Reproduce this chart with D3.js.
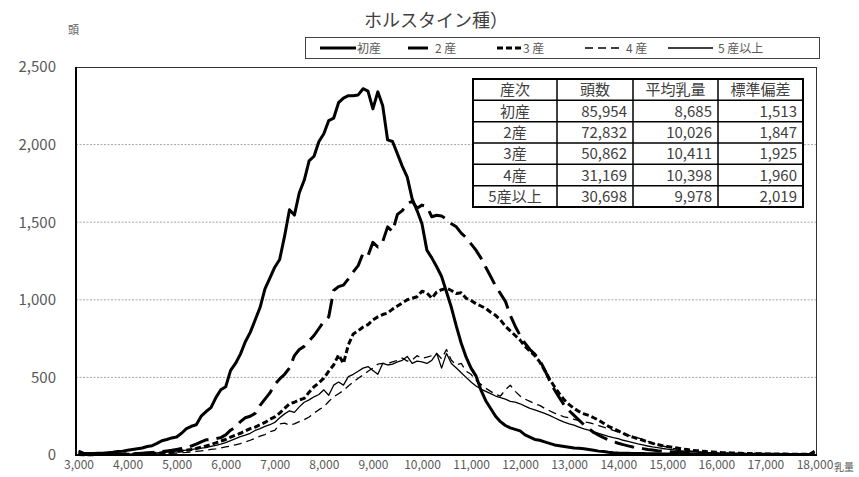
<!DOCTYPE html>
<html><head><meta charset="utf-8">
<script src="https://cdn.jsdelivr.net/npm/d3@7/dist/d3.min.js"></script>
<style>body{margin:0;background:#fff}svg{display:block}text{font-family:"Noto Sans CJK JP","Noto Sans",sans-serif}</style>
</head><body><svg id="c" width="859" height="477"></svg>
<script>
const categories = [
3000,3100,3200,3300,3400,3500,3600,3700,3800,3900,
4000,4100,4200,4300,4400,4500,4600,4700,4800,4900,
5000,5100,5200,5300,5400,5500,5600,5700,5800,5900,
6000,6100,6200,6300,6400,6500,6600,6700,6800,6900,
7000,7100,7200,7300,7400,7500,7600,7700,7800,7900,
8000,8100,8200,8300,8400,8500,8600,8700,8800,8900,
9000,9100,9200,9300,9400,9500,9600,9700,9800,9900,
10000,10100,10200,10300,10400,10500,10600,10700,10800,10900,
11000,11100,11200,11300,11400,11500,11600,11700,11800,11900,
12000,12100,12200,12300,12400,12500,12600,12700,12800,12900,
13000,13100,13200,13300,13400,13500,13600,13700,13800,13900,
14000,14100,14200,14300,14400,14500,14600,14700,14800,14900,
15000,15100,15200,15300,15400,15500,15600,15700,15800,15900,
16000,16100,16200,16300,16400,16500,16600,16700,16800,16900,
17000,17100,17200,17300,17400,17500,17600,17700,17800,17900,
18000];

const parity1 = [
25,12,10,10,12,12,15,18,22,25,
30,35,40,45,55,60,75,92,100,110,
116,140,170,185,195,250,280,305,370,420,
440,545,590,650,730,790,870,950,1070,1140,
1210,1260,1410,1580,1546,1690,1770,1895,1925,2020,
2070,2155,2170,2270,2300,2315,2315,2320,2360,2345,
2230,2340,2250,2030,2020,1940,1860,1790,1650,1575,
1490,1320,1270,1213,1150,1050,950,830,720,630,
560,510,420,350,300,250,215,190,175,165,
155,130,115,100,95,85,75,65,60,55,
50,45,43,40,35,30,25,22,18,15,
13,12,11,10,9,9,8,8,8,7,
7,7,6,6,6,6,5,5,5,5,
5,5,5,4,4,4,4,4,4,4,
4,4,4,3,3,3,3,3,3,3,
25];

const parity2 = [
5,3,3,3,4,4,5,5,6,7,
8,9,10,12,14,16,18,22,26,30,
36,42,48,58,70,85,98,100,105,112,
130,160,180,215,240,250,268,320,360,400,
455,490,520,560,640,680,700,735,770,815,
860,890,1060,1085,1095,1135,1180,1220,1300,1285,
1370,1340,1375,1470,1440,1550,1575,1620,1635,1590,
1610,1600,1535,1545,1540,1520,1490,1470,1430,1400,
1360,1320,1270,1210,1150,1090,1040,990,900,830,
770,720,680,650,610,550,480,420,370,320,
285,255,225,195,170,145,128,112,98,86,
76,67,59,52,46,41,36,32,28,25,
22,20,18,16,14,13,12,11,10,9,
9,8,8,7,7,7,6,6,6,5,
5,5,5,5,4,4,4,4,4,4,
10];

const parity3 = [
3,2,2,2,3,3,3,4,4,5,
5,6,7,8,9,10,12,14,16,18,
22,26,30,35,42,50,58,68,78,90,
100,115,128,140,155,170,180,195,210,230,
245,270,300,330,340,355,365,405,440,465,
495,540,580,645,590,710,780,800,825,840,
870,890,905,915,940,960,980,1000,1010,1020,
1055,1045,1010,1050,1065,1075,1060,1040,1045,1010,
995,975,960,945,920,900,870,830,800,770,
740,700,670,640,600,545,490,440,395,355,
325,300,280,265,255,240,225,205,185,170,
155,140,125,115,105,95,85,75,68,60,
55,50,45,40,35,30,28,25,22,20,
18,16,15,13,12,11,10,9,8,8,
7,7,6,6,6,5,5,5,5,5,
12];

const parity4 = [
2,1,1,1,1,1,2,2,2,2,
3,3,4,4,5,6,7,8,10,11,
13,15,17,20,23,27,31,36,40,45,
52,58,66,74,84,95,108,122,132,150,
158,200,205,192,200,215,228,245,270,292,
310,345,375,395,415,445,470,495,515,540,
560,585,590,590,600,610,625,605,612,640,
622,630,640,655,620,680,610,580,590,540,
520,480,455,430,410,390,380,420,450,410,
380,360,345,330,320,300,285,270,258,245,
240,230,222,215,208,200,190,180,170,158,
148,138,128,118,110,100,88,76,66,58,
50,44,38,33,28,25,22,19,17,15,
13,12,11,10,9,8,8,7,7,6,
6,5,5,5,4,4,4,4,4,4,
8];

const parity5 = [
5,2,2,2,3,3,3,4,4,5,
6,7,8,9,10,12,14,16,19,22,
25,28,32,36,40,44,48,55,62,70,
80,92,105,118,128,140,158,170,185,195,
210,240,265,285,275,310,340,355,375,390,
420,385,450,470,450,505,520,540,560,570,
545,520,590,580,585,600,610,635,590,605,
600,590,610,655,560,655,590,560,530,500,
470,445,425,410,395,380,370,360,345,340,
330,315,300,290,280,268,255,240,225,212,
200,192,180,168,160,150,140,130,120,112,
105,95,88,80,72,65,58,52,47,42,
38,34,30,27,24,21,19,17,15,13,
12,11,10,9,9,8,8,7,7,6,
6,6,5,5,5,5,4,4,4,4,
15];

const seriesNames = ["初産","2 産","3 産","4 産","5 産以上"];
const xTickValues = [3000,4000,5000,6000,7000,8000,9000,10000,11000,12000,13000,14000,15000,16000,17000,18000];
const yTickValues = [0,500,1000,1500,2000,2500];
const tableHeader = ["産次","頭数","平均乳量","標準偏差"];
const tableParity = ["初産","2産","3産","4産","5産以上"];
const tableCount = [85954,72832,50862,31169,30698];
const tableMean = [8685,10026,10411,10398,9978];
const tableSD = [1513,1847,1925,1960,2019];
const titleText = "ホルスタイン種）";

const svg = d3.select("#c");
const L = 76, R = 817, T = 67, B = 455;
const x = d3.scaleLinear().domain([3000,18000]).range([78.5,814.5]);
const y = d3.scaleLinear().domain([0,2500]).range([B,T]);
const fmt = d3.format(",");

// gridlines
svg.append("g").selectAll("line").data(yTickValues.filter(v=>v>0 && v<2500)).join("line")
  .attr("x1",L).attr("x2",R).attr("y1",d=>y(d)).attr("y2",d=>y(d))
  .attr("stroke","#a6a6a6").attr("stroke-width",1).attr("stroke-dasharray","2,1.5");

// frame top/right
svg.append("line").attr("x1",L).attr("x2",R).attr("y1",T+0.5).attr("y2",T+0.5).attr("stroke","#333").attr("stroke-width",1);
svg.append("line").attr("x1",R-0.5).attr("x2",R-0.5).attr("y1",T).attr("y2",B).attr("stroke","#333").attr("stroke-width",1);

// y axis labels
const yAxis = d3.axisLeft(y).tickValues(yTickValues).tickFormat(fmt).tickSize(0).tickPadding(0);
const gy = svg.append("g").attr("transform",`translate(56,0)`).call(yAxis);
gy.select(".domain").remove();
gy.selectAll("text").attr("font-size",15).attr("fill","#595959").attr("font-family",'"Noto Sans CJK JP",sans-serif');

// x axis labels
const xAxis = d3.axisBottom(x).tickValues(xTickValues).tickFormat(fmt).tickSize(0).tickPadding(0);
const gx = svg.append("g").attr("transform",`translate(0,460)`).call(xAxis);
gx.select(".domain").remove();
gx.selectAll("text").attr("font-size",12).attr("fill","#595959").attr("font-family",'"Noto Sans CJK JP",sans-serif');

svg.append("text").attr("x",834).attr("y",471).attr("font-size",10).attr("fill","#595959").text("乳量");
svg.append("text").attr("x",68).attr("y",34).attr("font-size",11).attr("fill","#595959").text("頭");

// series
const styles = [
  {w:3, dash:null},
  {w:3, dash:"20,8"},
  {w:3, dash:"6,3"},
  {w:1.3, dash:"8,5"},
  {w:1.3, dash:null}
];
const allSeries = [parity1,parity2,parity3,parity4,parity5];
const line = d3.line().x((d,i)=>x(categories[i])).y(d=>y(d));
const order = [4,3,2,1,0];
order.forEach(k=>{
  svg.append("path").datum(allSeries[k]).attr("d",line)
    .attr("fill","none").attr("stroke","#000").attr("stroke-width",styles[k].w)
    .attr("stroke-linejoin","round").attr("stroke-linecap","butt")
    .attr("stroke-dasharray",styles[k].dash);
});

// axes lines (left & bottom thick)
svg.append("line").attr("x1",L).attr("x2",L).attr("y1",T).attr("y2",B+1).attr("stroke","#000").attr("stroke-width",2);
svg.append("line").attr("x1",L).attr("x2",R).attr("y1",B).attr("y2",B).attr("stroke","#000").attr("stroke-width",2);

// title
svg.append("text").attr("x",364).attr("y",27).attr("font-size",18).attr("fill","#404040").text(titleText);

// legend
const lg = svg.append("g");
lg.append("rect").attr("x",305.5).attr("y",37.5).attr("width",514).attr("height",21).attr("fill","#fff").attr("stroke","#404040").attr("stroke-width",1);
const legendItems = [
  {x1:320,x2:356,tx:357},
  {x1:408,x2:428,tx:435},
  {x1:497,x2:521,tx:523},
  {x1:585,x2:621,tx:626},
  {x1:668,x2:713,tx:718}
];
legendItems.forEach((it,k)=>{
  lg.append("line").attr("x1",it.x1).attr("x2",it.x2).attr("y1",48).attr("y2",48)
    .attr("stroke","#000").attr("stroke-width",styles[k].w).attr("stroke-dasharray",styles[k].dash);
  lg.append("text").attr("x",it.tx).attr("y",52.5).attr("font-size",12).attr("fill","#595959").text(seriesNames[k]);
});

// table
const colX = [473,557,633,718,803];
const rowH = (207-79)/6;
const tg = svg.append("g");
tg.append("rect").attr("x",473).attr("y",79).attr("width",330).attr("height",128).attr("fill","#fff").attr("stroke","none");
for(let i=1;i<6;i++){
  tg.append("line").attr("x1",473).attr("x2",803).attr("y1",79+i*rowH).attr("y2",79+i*rowH).attr("stroke","#000").attr("stroke-width",1.5);
}
for(let j=1;j<4;j++){
  tg.append("line").attr("x1",colX[j]).attr("x2",colX[j]).attr("y1",79).attr("y2",207).attr("stroke","#000").attr("stroke-width",1.5);
}
tg.append("rect").attr("x",473).attr("y",79).attr("width",330).attr("height",128).attr("fill","none").attr("stroke","#000").attr("stroke-width",2);
tableHeader.forEach((h,j)=>{
  tg.append("text").attr("x",(colX[j]+colX[j+1])/2).attr("y",79+rowH/2+5.5).attr("text-anchor","middle")
    .attr("font-size",15).attr("fill","#404040").text(h);
});
tableParity.forEach((p,i)=>{
  const cy = 79+(i+1)*rowH+rowH/2+5.5;
  tg.append("text").attr("x",(colX[0]+colX[1])/2).attr("y",cy).attr("text-anchor","middle").attr("font-size",15).attr("fill","#404040").text(p);
  [tableCount[i],tableMean[i],tableSD[i]].forEach((v,j)=>{
    tg.append("text").attr("x",colX[j+2]-6).attr("y",cy).attr("text-anchor","end").attr("font-size",15).attr("fill","#404040").text(fmt(v));
  });
});
</script></body></html>
